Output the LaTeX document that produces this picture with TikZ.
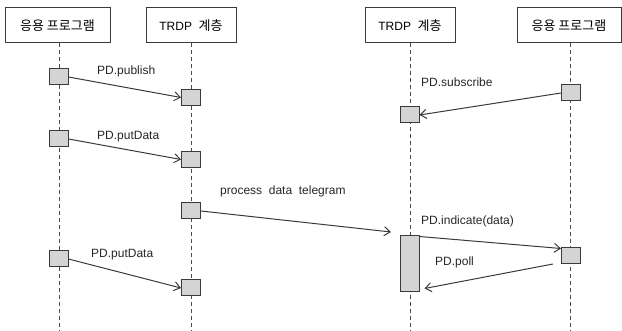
\documentclass[tikz,border=0pt]{standalone}
\usepackage{fontspec}
\setmainfont{Liberation Sans}
\newfontfamily\kr{Noto Sans CJK KR}
\usetikzlibrary{arrows.meta}
\definecolor{actfill}{HTML}{D4D4D4}
\definecolor{linec}{HTML}{3A3A3A}
\definecolor{lifec}{HTML}{4A4A4A}
\begin{document}
\begin{tikzpicture}[x=1pt,y=-1pt,
  hdr/.style={draw=linec,line width=1pt,minimum height=35pt,inner sep=0pt,
    font=\fontsize{12}{14}\selectfont},
  act/.style={draw=linec,line width=1pt,fill=actfill,minimum width=19pt,minimum height=16pt,inner sep=0pt},
  msg/.style={draw=linec,line width=1pt,-{Straight Barb[length=6pt,width=9pt,line width=1pt]}},
  life/.style={draw=lifec,line width=1pt,dash pattern=on 4pt off 3pt},
  lbl/.style={anchor=base west,inner sep=0pt,text=black!85,font=\fontsize{12}{14}\selectfont}]
\useasboundingbox (0,0) rectangle (622,331);
% headers
\node[hdr,minimum width=105pt] (H1) at (57.5,25.5) {{\kr\fontsize{13}{14}\selectfont 응용 프로그램}};
\node[hdr,minimum width=90pt] (H2) at (191,25.5) {TRDP\ \ {\kr\fontsize{13}{14}\selectfont 계층}};
\node[hdr,minimum width=90pt] (H3) at (410,25.5) {TRDP\ \ {\kr\fontsize{13}{14}\selectfont 계층}};
\node[hdr,minimum width=104pt] (H4) at (569,25.5) {{\kr\fontsize{13}{14}\selectfont 응용 프로그램}};
% lifelines
\coordinate (E1) at (59.5,331);
\coordinate (E2) at (191,331);
\coordinate (E3) at (410,331);
\coordinate (E4) at (570.5,331);
\draw[life] (H1.south -| E1) -- (E1);
\draw[life] (H2.south) -- (E2);
\draw[life] (H3.south) -- (E3);
\draw[life] (H4.south -| E4) -- (E4);
% activation boxes
\node[act] (A1) at (58.5,77) {};
\node[act] (B1) at (191,97.5) {};
\node[act] (D2) at (571,93) {};
\node[act] (C2) at (409.5,115) {};
\node[act] (A3) at (58.5,139) {};
\node[act] (B3) at (191,159.5) {};
\node[act] (B4) at (191,211) {};
\node[act,minimum height=56pt] (T) at (409.5,264) {};
\node[act] (D5) at (571,255.5) {};
\node[act] (A6) at (58.5,259) {};
\node[act] (B6) at (191,288) {};
\coordinate (P) at (391,232);
% messages
\draw[msg] (A1.east) -- (B1.west);
\draw[msg] (D2.west) -- (C2.east);
\draw[msg] (A3.east) -- (B3.west);
\draw[msg] (B4.east) -- (P);
\draw[msg] ([yshift=-1pt]T.north east) -- ([yshift=-1.5pt]D5.north west);
\draw[msg] ([xshift=-8pt]D5.south west) -- ([xshift=5pt,yshift=4pt]T.south east);
\draw[msg] (A6.east) -- (B6.west);
% labels
\node[lbl] (L1) at (97,74.5) {PD.publish};
\node[lbl] (L2) at (421,87) {PD.subscribe};
\node[lbl] (L3) at (97,139.5) {PD.putData};
\node[lbl] (L4) at (220,194.5) {process\ \ data\ \ telegram};
\node[lbl] (L5) at (421,225) {PD.indicate(data)};
\node[lbl] (L6) at (435,266) {PD.poll};
\node[lbl] (L7) at (91,258) {PD.putData};
\end{tikzpicture}
\end{document}
